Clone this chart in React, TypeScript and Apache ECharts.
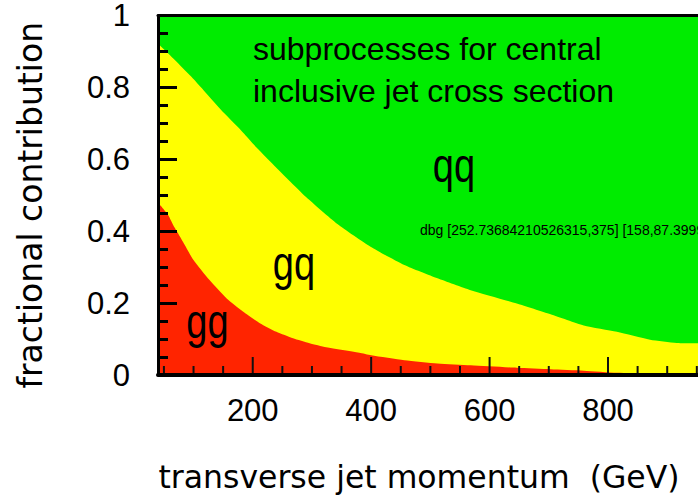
import { useEffect, useRef } from "react";
import * as echarts from "echarts";

// x range of the plot frame (GeV)
const xMin = 40;
const xMax = 952;
const xMajorTicks = [200, 400, 600, 800];
const xMinorTicks = [50, 100, 150, 250, 300, 350, 450, 500, 550, 650, 700, 750, 850, 900, 950];

// gg fraction (top edge of red band)
const ggPt = [40, 45, 57, 68, 77, 85, 99, 127, 156, 184, 212, 240, 268, 296, 324, 380, 400, 456, 512, 568, 646, 703, 759, 815, 871, 916, 952];
const ggFrac = [0.48, 0.47, 0.445, 0.41, 0.385, 0.362, 0.322, 0.264, 0.213, 0.176, 0.144, 0.12, 0.102, 0.088, 0.077, 0.062, 0.055, 0.041, 0.032, 0.027, 0.02, 0.016, 0.012, 0.006, 0.004, 0.003, 0.002];

// gg + gq fraction (top edge of yellow band)
const topPt = [40, 45, 68, 96, 124, 152, 180, 208, 236, 264, 290, 343, 399, 456, 512, 568, 646, 703, 759, 815, 871, 916, 952];
const ggGqFrac = [0.92, 0.914, 0.877, 0.83, 0.779, 0.728, 0.681, 0.63, 0.583, 0.537, 0.495, 0.42, 0.357, 0.306, 0.269, 0.236, 0.199, 0.169, 0.138, 0.12, 0.098, 0.089, 0.088];

// gg + gq + qq = 1
const qqPt = [40, 952];
const totalFrac = [1, 1];

const GREEN = "#00ec00";
const YELLOW = "#ffff00";
const RED = "#ff2400";

const SANS = "'Liberation Sans', Arial, sans-serif";
const TICK_COLOR = "#111111";

export default function App() {
  const ref = useRef<HTMLDivElement>(null);
  useEffect(() => {
    const chart = echarts.init(ref.current!, null, { renderer: "svg" });
    const area = (name: string, xs: number[], ys: number[], color: string) => ({
      name,
      type: "line",
      data: xs.map((x, i) => [x, ys[i]]),
      showSymbol: false,
      smooth: 0.2,
      lineStyle: { width: 0, color },
      itemStyle: { color },
      areaStyle: { color, opacity: 1 },
      z: 1,
      silent: true,
    });
    chart.setOption({
      animation: false,
      backgroundColor: "#ffffff",
      grid: { left: 158, right: 0, top: 15, bottom: 128, containLabel: false },
      xAxis: [
        {
          type: "value",
          min: xMin,
          max: xMax,
          position: "bottom",
          z: 100,
          name: "transverse jet momentum  (GeV)",
          nameLocation: "middle",
          nameGap: 86,
          nameTextStyle: {
            fontFamily: "'DejaVu Sans', sans-serif",
            fontSize: 31.5,
            color: "#000",
            padding: [0, 18, 0, 0],
          },
          axisLine: { show: true, lineStyle: { color: "#000", width: 4 } },
          axisTick: { show: false },
          axisLabel: {
            customValues: xMajorTicks,
            margin: 20,
            fontFamily: SANS,
            fontSize: 31,
            color: "#000",
          },
          splitLine: { show: false },
        },
        {
          type: "value",
          min: xMin,
          max: xMax,
          position: "top",
          z: 100,
          axisLine: { show: true, lineStyle: { color: "#000", width: 3 } },
          axisTick: { show: false },
          axisLabel: { show: false },
          splitLine: { show: false },
        },
      ],
      yAxis: {
        type: "value",
        min: 0,
        max: 1,
        interval: 0.2,
        z: 100,
        name: "fractional contribution",
        nameLocation: "middle",
        nameGap: 111,
        nameTextStyle: {
          fontFamily: "'DejaVu Sans', sans-serif",
          fontSize: 33,
          color: "#000",
          padding: [0, 20, 0, 0],
        },
        axisLine: { show: true, lineStyle: { color: "#000", width: 3 } },
        axisTick: { show: true, inside: true, length: 19, lineStyle: { color: "#000", width: 3 } },
        minorTick: { show: true, splitNumber: 4, length: 10, lineStyle: { color: "#000", width: 3 } },
        axisLabel: { margin: 28, fontFamily: SANS, fontSize: 31, lineHeight: 24, color: "#000" },
        splitLine: { show: false },
      },
      series: [
        area("qq", qqPt, totalFrac, GREEN),
        area("gq", topPt, ggGqFrac, YELLOW),
        area("gg", ggPt, ggFrac, RED),
      ],
    });

    const raw = (x: number, y: number) => chart.convertToPixel({ gridIndex: 0 }, [x, y]) as any;
    const dbgA = raw(200, 0);
    const dbgB = raw(40, 0.8);

    const ticks: any[] = [];
    [...xMajorTicks, ...xMinorTicks].forEach((v) => {
      const p = raw(v, 0);
      if (!p) return;
      const len = xMajorTicks.indexOf(v) >= 0 ? 18 : 9;
      ticks.push({
        type: "line",
        z: 60,
        silent: true,
        shape: { x1: p[0], y1: p[1] - 1, x2: p[0], y2: p[1] - len },
        style: { stroke: TICK_COLOR, lineWidth: 2 },
      });
    });

    const texts: any[] = [
      {
        type: "text",
        x: 253,
        y: 49,
        z: 20,
        style: { text: "subprocesses for central", font: `32px ${SANS}`, fill: "#000", textAlign: "left", textVerticalAlign: "middle" },
      },
      {
        type: "text",
        x: 253,
        y: 90.5,
        z: 20,
        style: { text: "inclusive jet cross section", font: `32px ${SANS}`, fill: "#000", textAlign: "left", textVerticalAlign: "middle" },
      },
      {
        type: "text",
        x: 454,
        y: 165,
        scaleY: 1.25,
        z: 20,
        style: { text: "qq", font: `38px ${SANS}`, fill: "#000", textAlign: "center", textVerticalAlign: "middle" },
      },
      {
        type: "text",
        x: 294,
        y: 263.5,
        scaleY: 1.25,
        z: 20,
        style: { text: "gq", font: `38px ${SANS}`, fill: "#000", textAlign: "center", textVerticalAlign: "middle" },
      },
      {
        type: "text",
        x: 207.5,
        y: 321.5,
        scaleY: 1.25,
        z: 20,
        style: { text: "gg", font: `38px ${SANS}`, fill: "#000", textAlign: "center", textVerticalAlign: "middle" },
      },
      {
        type: "text",
        x: 420,
        y: 230,
        z: 20,
        style: {
          text: "dbg " + JSON.stringify(dbgA) + " " + JSON.stringify(dbgB) + " n=" + ticks.length,
          font: `14px ${SANS}`,
          fill: "#000",
          textAlign: "left",
          textVerticalAlign: "middle",
        },
      },
    ];
    chart.setOption({ graphic: [{ elements: [...ticks, ...texts] }] });

    return () => chart.dispose();
  }, []);
  return <div ref={ref} style={{ position: "absolute", left: 0, top: 0, width: 698, height: 503 }} />;
}
